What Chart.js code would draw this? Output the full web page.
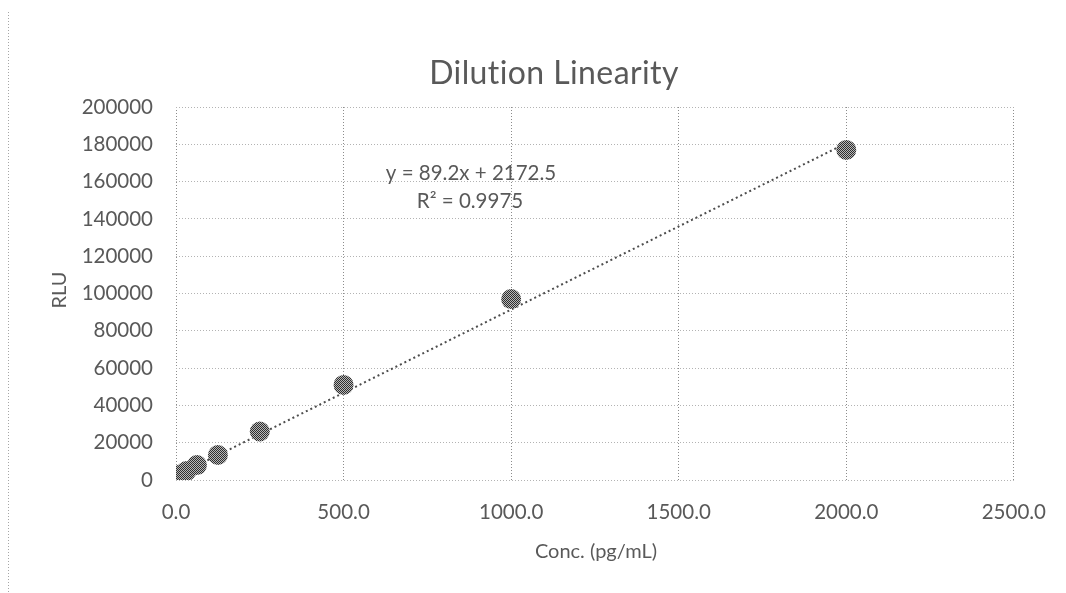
<!DOCTYPE html>
<html><head><meta charset="utf-8">
<script src="https://cdn.jsdelivr.net/npm/chart.js@4.4.1/dist/chart.umd.min.js"></script>
<style>body{margin:0;background:#fff}canvas{display:block}</style></head><body>
<canvas id="c" width="1066" height="593"></canvas>
<script>
const concentrations = [2000, 1000, 500, 250, 125, 62.5, 31.25, 15.63, 7.81, 3.91, 1.95, 0.98];
const rluValues = [177000, 97000, 51000, 26000, 13400, 8000, 4800, 3000, 2000, 1500, 1100, 900];
const xTickValues = [0, 500, 1000, 1500, 2000, 2500];
const yTickValues = [0, 20000, 40000, 60000, 80000, 100000, 120000, 140000, 160000, 180000, 200000];
const trendSlope = 89.2;
const trendIntercept = 2172.5;
const trendRange = [0, 2000];
const chartTitle = 'Dilution Linearity';
const xAxisTitle = 'Conc. (pg/mL)';
const yAxisTitle = 'RLU';
const equationLines = ['y = 89.2x + 2172.5', 'R\u00B2 = 0.9975'];

const FONT = 'Lato, "Open Sans", sans-serif';
const TXT = '#595959';

// dithered marker fill
const pc = document.createElement('canvas');
pc.width = 2; pc.height = 2;
const pctx = pc.getContext('2d');
pctx.fillStyle = '#b8b8b8'; pctx.fillRect(0,0,2,2);
pctx.fillStyle = '#2e2e2e'; pctx.fillRect(0,0,1,1); pctx.fillRect(1,1,1,1);
const ctx = document.getElementById('c').getContext('2d');
const markerFill = ctx.createPattern(pc, 'repeat');

const points = concentrations.map((x, i) => ({x, y: rluValues[i]}));
const trendPoints = trendRange.map(x => ({x, y: trendSlope * x + trendIntercept}));

const decor = {
  id: 'decor',
  afterDraw(chart) {
    const c = chart.ctx;
    c.save();
    c.fillStyle = TXT;
    c.textAlign = 'center';
    c.textBaseline = 'middle';
    c.font = '32px ' + FONT;
    if ('letterSpacing' in c) c.letterSpacing = '0.4px';
    c.fillText(chartTitle, 554, 74);
    if ('letterSpacing' in c) c.letterSpacing = '0px';
    c.font = '20px ' + FONT;
    c.fillText(xAxisTitle, 596, 552);
    c.save();
    c.translate(60, 290);
    c.rotate(-Math.PI / 2);
    c.fillText(yAxisTitle, 0, 0);
    c.restore();
    c.font = '20.5px ' + FONT;
    c.fillText(equationLines[0], 471, 173);
    c.fillText(equationLines[1], 470, 201);
    // outer frame left edge
    c.strokeStyle = '#a6a6a6';
    c.lineWidth = 1;
    c.setLineDash([1, 2]);
    c.beginPath();
    c.moveTo(8.5, 12);
    c.lineTo(8.5, 593);
    c.stroke();
    c.restore();
  }
};

new Chart(ctx, {
  type: 'scatter',
  data: {
    datasets: [
      {
        label: 'Trend',
        type: 'line',
        data: trendPoints,
        borderColor: '#4d4d4d',
        borderWidth: 2,
        borderDash: [2, 3],
        pointRadius: 0,
        fill: false,
        order: 2
      },
      {
        label: 'RLU',
        data: points,
        backgroundColor: markerFill,
        borderColor: 'rgba(0,0,0,0)',
        borderWidth: 0,
        pointRadius: 10,
        order: 1
      }
    ]
  },
  options: {
    responsive: false,
    animation: false,
    layout: {padding: {top: 107, right: 50, bottom: 0, left: 0}},
    plugins: {legend: {display: false}, tooltip: {enabled: false}, title: {display: false}},
    scales: {
      x: {
        type: 'linear',
        min: xTickValues[0],
        max: xTickValues[xTickValues.length - 1],
        afterBuildTicks(s) { s.ticks = xTickValues.map(v => ({value: v})); },
        afterFit(s) { s.height = 113; },
        ticks: {
          padding: 20,
          color: TXT,
          font: {family: FONT, size: 20.5},
          callback: v => Number(v).toFixed(1),
          maxRotation: 0
        },
        grid: {color: '#8c8c8c', drawTicks: false, lineWidth: 1},
        border: {display: false, dash: [1, 2]}
      },
      y: {
        type: 'linear',
        min: yTickValues[0],
        max: yTickValues[yTickValues.length - 1],
        afterBuildTicks(s) { s.ticks = yTickValues.map(v => ({value: v})); },
        afterFit(s) { s.width = 176; },
        ticks: {
          padding: 23,
          color: TXT,
          font: {family: FONT, size: 20.5},
          callback: v => String(v)
        },
        grid: {color: '#b3b3b3', drawTicks: false, lineWidth: 1},
        border: {display: false, dash: [1, 2]}
      }
    }
  },
  plugins: [decor]
});
</script>
</body></html>
